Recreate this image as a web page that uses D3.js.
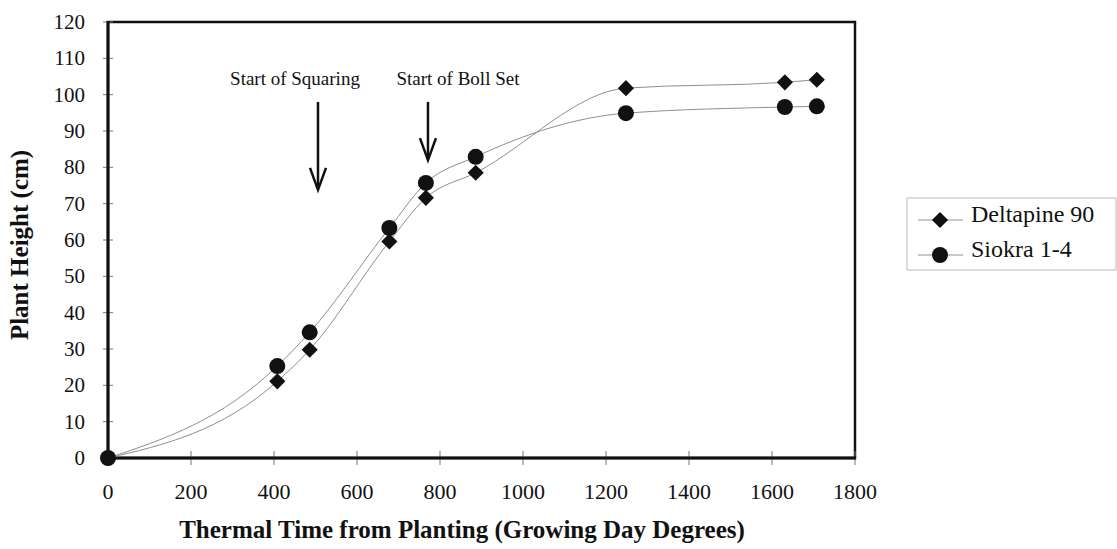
<!DOCTYPE html>
<html>
<head>
<meta charset="utf-8">
<script src="https://cdn.jsdelivr.net/npm/d3@7"></script>
<style>
  body { margin: 0; background: #fff; }
  text { font-family: "Liberation Serif", "Times New Roman", serif; fill: #111; }
</style>
</head>
<body>
<svg id="chart" width="1117" height="549"></svg>
<script>
// thermal time (GDD) of each sampling
const thermal = [0, 408, 486, 678, 766, 886, 1248, 1631, 1708];
// plant height (cm)
const deltapine = [0, 21.1, 29.8, 59.6, 71.6, 78.5, 101.8, 103.4, 104.1];
const siokra = [0, 25.3, 34.6, 63.3, 75.7, 82.9, 94.9, 96.6, 96.8];

const xTicks = [0, 200, 400, 600, 800, 1000, 1200, 1400, 1600, 1800];
const yTicks = [0, 10, 20, 30, 40, 50, 60, 70, 80, 90, 100, 110, 120];

// arrow annotations
const annotLabels = ['Start of Squaring', 'Start of Boll Set'];
const annotX = [506, 771];
const annotTop = [98, 98];
const annotTip = [73.8, 82];

const svg = d3.select('#chart');
const plotLeft = 108, plotRight = 855, plotTop = 22, plotBottom = 458;
const labelShift = [-23, 30]; // annotation text offset from its arrow

const x = d3.scaleLinear().domain([0, 1800]).range([plotLeft, plotRight]);
const y = d3.scaleLinear().domain([0, 120]).range([plotBottom, plotTop]);

// frame
svg.append('rect')
  .attr('x', plotLeft).attr('y', plotTop)
  .attr('width', plotRight - plotLeft).attr('height', plotBottom - plotTop)
  .attr('fill', 'none').attr('stroke', '#111').attr('stroke-width', 2.5);

// ticks crossing axes
svg.selectAll('.ytick').data(yTicks).join('line')
  .attr('x1', plotLeft - 5).attr('x2', plotLeft + 5)
  .attr('y1', d => y(d)).attr('y2', d => y(d))
  .attr('stroke', '#777').attr('stroke-width', 1);
svg.selectAll('.xtick').data(xTicks).join('line')
  .attr('x1', d => x(d)).attr('x2', d => x(d))
  .attr('y1', plotBottom - 7).attr('y2', plotBottom + 7)
  .attr('stroke', '#777').attr('stroke-width', 1);

// axis lines (heavier)
svg.append('line').attr('x1', plotLeft).attr('x2', plotLeft).attr('y1', plotTop - 1).attr('y2', plotBottom + 1)
  .attr('stroke', '#111').attr('stroke-width', 3);
svg.append('line').attr('x1', plotLeft - 1).attr('x2', plotRight + 1).attr('y1', plotBottom).attr('y2', plotBottom)
  .attr('stroke', '#111').attr('stroke-width', 3);

// tick labels
svg.selectAll('.ylab').data(yTicks).join('text')
  .attr('x', 85).attr('y', d => y(d))
  .attr('text-anchor', 'end').attr('dominant-baseline', 'central')
  .attr('font-size', 21)
  .text(d => d);
svg.selectAll('.xlab').data(xTicks).join('text')
  .attr('x', d => x(d)).attr('y', 499)
  .attr('text-anchor', 'middle')
  .attr('font-size', 22)
  .text(d => d);

// axis titles
svg.append('text')
  .attr('x', 462).attr('y', 538)
  .attr('text-anchor', 'middle').attr('font-size', 25).attr('font-weight', 'bold')
  .text('Thermal Time from Planting (Growing Day Degrees)');
svg.append('text')
  .attr('transform', 'translate(28,245) rotate(-90)')
  .attr('text-anchor', 'middle').attr('font-size', 25).attr('font-weight', 'bold')
  .text('Plant Height (cm)');

// smoothed series lines
const series = [
  { name: 'Deltapine 90', values: deltapine, shape: 'diamond' },
  { name: 'Siokra 1-4', values: siokra, shape: 'circle' },
];
const line = d3.line()
  .x((d, i) => x(thermal[i]))
  .y(d => y(d))
  .curve(d3.curveMonotoneX);

series.forEach(s => {
  svg.append('path')
    .attr('d', line(s.values))
    .attr('fill', 'none').attr('stroke', '#8f8f8f').attr('stroke-width', 1);
});

const diamond = d3.symbol().type(d3.symbolSquare).size(130);
function drawMarker(g, shape, cx, cy) {
  if (shape === 'circle') {
    g.append('circle').attr('cx', cx).attr('cy', cy).attr('r', 8).attr('fill', '#111');
  } else {
    g.append('path').attr('d', diamond())
      .attr('transform', `translate(${cx},${cy}) rotate(45)`)
      .attr('fill', '#111');
  }
}

series.forEach(s => {
  const g = svg.append('g');
  s.values.forEach((v, i) => drawMarker(g, s.shape, x(thermal[i]), y(v)));
});

// annotations with arrows
annotLabels.forEach((lab, i) => {
  const ax = x(annotX[i]);
  const y0 = y(annotTop[i]);
  const y1 = y(annotTip[i]);
  svg.append('text')
    .attr('x', ax + labelShift[i]).attr('y', 85)
    .attr('text-anchor', 'middle').attr('font-size', 19)
    .text(lab);
  svg.append('line')
    .attr('x1', ax).attr('x2', ax).attr('y1', y0).attr('y2', y1 - 1)
    .attr('stroke', '#111').attr('stroke-width', 2.5);
  svg.append('path')
    .attr('d', `M${ax - 8},${y1 - 22} L${ax},${y1} L${ax + 8},${y1 - 22}`)
    .attr('fill', 'none').attr('stroke', '#111').attr('stroke-width', 2.5);
});

// legend
const lg = svg.append('g').attr('transform', 'translate(907,198)');
lg.append('rect').attr('width', 209).attr('height', 72)
  .attr('fill', '#fff').attr('stroke', '#bbb').attr('stroke-width', 1);
series.forEach((s, i) => {
  const cy = 22 + i * 35;
  lg.append('line').attr('x1', 11).attr('x2', 56).attr('y1', cy).attr('y2', cy)
    .attr('stroke', '#8f8f8f').attr('stroke-width', 1);
  drawMarker(lg, s.shape, 33, cy);
  lg.append('text').attr('x', 64).attr('y', cy + 2)
    .attr('font-size', 24)
    .text(s.name);
});
</script>
</body>
</html>
